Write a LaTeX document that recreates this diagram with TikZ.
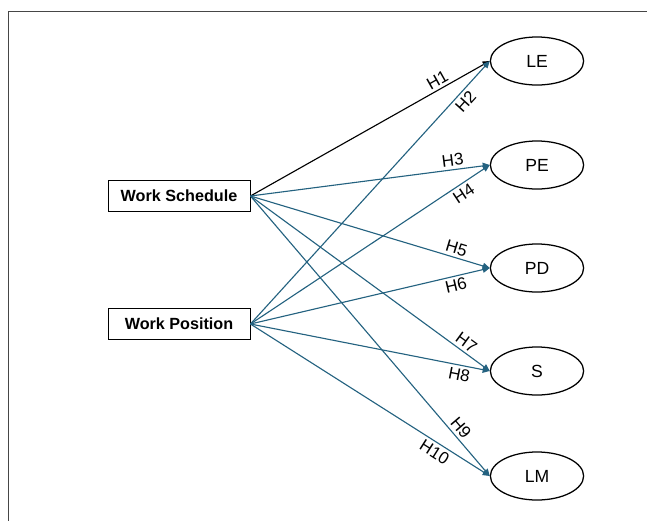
\documentclass[tikz,border=0pt]{standalone}
\usepackage{fontspec}
\setmainfont{Liberation Sans}
\usetikzlibrary{arrows.meta,shapes.geometric}
\definecolor{figT}{RGB}{36,98,128}
\definecolor{figF}{RGB}{70,70,70}

\begin{document}
\begin{tikzpicture}[x=0.025cm,y=-0.025cm,
  predictor/.style={draw,line width=0.6pt,minimum width=3.55cm,minimum height=0.77cm,
    inner sep=1pt,font=\fontsize{11.5}{13}\selectfont\bfseries},
  outcome/.style={draw,ellipse,line width=0.9pt,minimum width=2.33cm,minimum height=1.2cm,
    inner sep=0pt,font=\fontsize{12.5}{14}\selectfont},
  path/.style={line width=0.8pt,-{Triangle[length=5pt,width=4.5pt]}},
  hyp/.style={sloped,inner sep=2pt,font=\fontsize{12}{14}\selectfont}]
\useasboundingbox (0,0) rectangle (647,521);
% frame
\draw[figF,line width=0.6pt] (8,521) -- (8,11) -- (647,11);
% constructs
\node[predictor] (ws) at (179,196) {Work Schedule};
\node[predictor] (wp) at (179,324) {Work Position};
\node[outcome] (le) at (537,61) {LE};
\node[outcome] (pe) at (537,165) {PE};
\node[outcome] (pd) at (537,268) {PD};
\node[outcome] (s) at (537,371) {S};
\node[outcome] (lm) at (537,476) {LM};
% hypotheses
\foreach \a/\b/\p/\s/\c/\l in {ws/le/0.8/south/black/H1,wp/le/0.87/north/figT/H2,
  ws/pe/0.85/south/figT/H3,wp/pe/0.87/north/figT/H4,ws/pd/0.85/south/figT/H5,
  wp/pd/0.85/north/figT/H6,ws/s/0.88/south/figT/H7,wp/s/0.88/north/figT/H8,
  ws/lm/0.85/south/figT/H9,wp/lm/0.79/north/figT/H10}
  \draw[path,\c] (\a.east) -- node[hyp,pos=\p,anchor=\s,text=black] {\l} (\b.west);
\end{tikzpicture}
\end{document}
